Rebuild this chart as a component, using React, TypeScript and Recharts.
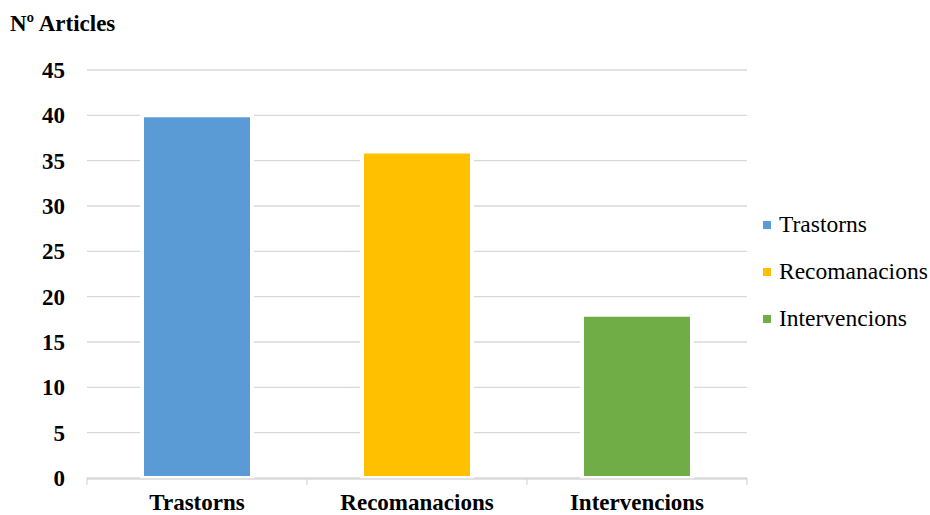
import { BarChart, Bar, Cell, XAxis, YAxis, CartesianGrid } from 'recharts';

const categories = ['Trastorns', 'Recomanacions', 'Intervencions'];
const articles = [40, 36, 18];
const colors = ['#5B9BD5', '#FFC000', '#70AD47'];
const yTicks = [0, 5, 10, 15, 20, 25, 30, 35, 40, 45];
const boundaryTicks = [0, 1, 2, 3];

const data = categories.map((name, i) => ({ name, value: articles[i], pos: i + 0.5 }));

const FONT = '"Liberation Serif", "Times New Roman", serif';

export default function App() {
  return (
    <div style={{ position: 'absolute', left: 0, top: 0, width: 930, height: 515, background: '#fff' }}>
      <div
        style={{
          position: 'absolute',
          left: 10,
          top: 9,
          fontFamily: FONT,
          fontWeight: 'bold',
          fontSize: 23,
          lineHeight: '30px',
          color: '#000',
        }}
      >
        Nº Articles
      </div>
      <BarChart
        width={930}
        height={515}
        data={data}
        margin={{ top: 70, right: 183, bottom: 0, left: 0 }}
        barSize={110}
      >
        <CartesianGrid xAxisId="cat" vertical={false} stroke="#d9d9d9" strokeWidth={1.3} />
        {/* tick marks between categories, like the original */}
        <XAxis
          xAxisId="bounds"
          type="number"
          dataKey="pos"
          domain={[0, 3]}
          ticks={boundaryTicks}
          tickFormatter={() => ''}
          axisLine={false}
          tickLine={{ stroke: '#d9d9d9', strokeWidth: 1.3 }}
          tickSize={7}
          height={1}
        />
        <XAxis
          xAxisId="cat"
          dataKey="name"
          height={36}
          axisLine={{ stroke: '#d9d9d9', strokeWidth: 1.3 }}
          tickLine={false}
          tickSize={0}
          tickMargin={15}
          tick={{ fill: '#000', fontSize: 23, fontWeight: 'bold', fontFamily: FONT }}
        />
        <YAxis
          domain={[0, 45]}
          ticks={yTicks}
          width={87}
          axisLine={false}
          tickLine={false}
          tickSize={0}
          tickMargin={22}
          tick={{ fill: '#000', fontSize: 23, fontWeight: 'bold', fontFamily: FONT }}
        />
        <Bar xAxisId="cat" dataKey="value" stroke="#fff" strokeWidth={4} isAnimationActive={false}>
          {data.map((d, i) => (
            <Cell key={d.name} fill={colors[i]} />
          ))}
        </Bar>
      </BarChart>
      <div style={{ position: 'absolute', left: 763, top: 201, fontFamily: FONT, fontSize: 23.5, color: '#000' }}>
        {categories.map((c, i) => (
          <div key={c} style={{ display: 'flex', alignItems: 'center', height: 47 }}>
            <span style={{ width: 8, height: 8, backgroundColor: colors[i], marginRight: 8 }} />
            <span style={{ fontFamily: FONT }}>{c}</span>
          </div>
        ))}
      </div>
    </div>
  );
}
